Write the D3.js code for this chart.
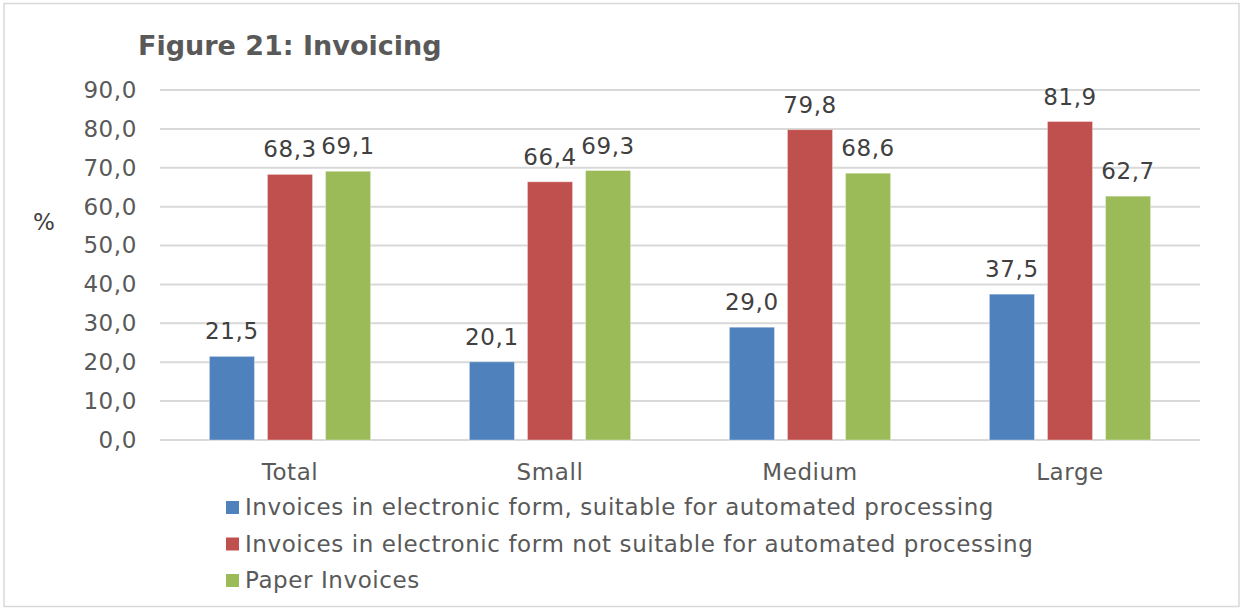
<!DOCTYPE html>
<html><head><meta charset="utf-8">
<script src="https://cdn.jsdelivr.net/npm/d3@7"></script>
<style>body{margin:0;background:#fff}svg{display:block}text{font-family:"DejaVu Sans",Verdana,sans-serif}</style>
</head><body>
<script>
const categories = ["Total", "Small", "Medium", "Large"];
const seriesNames = [
  "Invoices in electronic form, suitable for automated processing",
  "Invoices in electronic form not suitable for automated processing",
  "Paper Invoices"
];
const electronicSuitable = [21.5, 20.1, 29.0, 37.5];
const electronicNotSuitable = [68.3, 66.4, 79.8, 81.9];
const paperInvoices = [69.1, 69.3, 68.6, 62.7];
const seriesColors = ["#4F81BD", "#C0504D", "#9BBB59"];
const yTicks = [0, 10, 20, 30, 40, 50, 60, 70, 80, 90];
const title = "Figure 21: Invoicing";

const seriesValues = [electronicSuitable, electronicNotSuitable, paperInvoices];
const W = 1243, H = 610;
const svg = d3.select("body").append("svg").attr("width", W).attr("height", H);
svg.append("rect").attr("x", 4).attr("y", 3.5).attr("width", W - 8).attr("height", H - 7)
  .attr("fill", "#fff").attr("stroke", "#d9d9d9").attr("stroke-width", 1.5);

const fmt = v => d3.format(".1f")(v).replace(".", ",");
const y = d3.scaleLinear().domain([0, 90]).range([440, 90]);
const x0 = d3.scaleBand().domain(categories).range([160, 1200]).paddingInner(0.38).paddingOuter(0.19);
const x1 = d3.scaleBand().domain(d3.range(3)).range([0, x0.bandwidth()]).paddingInner(0.224);

// gridlines
svg.append("g").selectAll("line").data(yTicks).join("line")
  .attr("x1", 160).attr("x2", 1200).attr("y1", d => y(d)).attr("y2", d => y(d))
  .attr("stroke", "#d9d9d9").attr("stroke-width", 2);

// y axis
const yAxis = svg.append("g").attr("transform", "translate(160,0)")
  .call(d3.axisLeft(y).tickValues(yTicks).tickFormat(fmt).tickSize(0).tickPadding(23));
yAxis.select(".domain").remove();
yAxis.selectAll("text").attr("fill", "#595959").style("font-size", "23px")
  .style("letter-spacing", "0.6px").attr("font-family", null);

// x axis
const xAxis = svg.append("g").attr("transform", "translate(0,440)")
  .call(d3.axisBottom(x0).tickSize(0).tickPadding(24));
xAxis.select(".domain").remove();
xAxis.selectAll("text").attr("fill", "#595959").style("font-size", "23px")
  .style("letter-spacing", "0.6px").attr("font-family", null);

// bars
const groups = svg.append("g").selectAll("g").data(categories).join("g")
  .attr("transform", d => `translate(${x0(d)},0)`);
groups.each(function(cat, ci) {
  const g = d3.select(this);
  const data = seriesValues.map((s, si) => ({si, v: s[ci]}));
  g.selectAll("rect").data(data).join("rect")
    .attr("x", d => x1(d.si)).attr("width", x1.bandwidth())
    .attr("y", d => y(d.v)).attr("height", d => y(0) - y(d.v))
    .attr("fill", d => seriesColors[d.si])
    .attr("stroke", "rgba(255,255,255,0.35)").attr("stroke-width", 1);
  g.selectAll("text").data(data).join("text")
    .attr("x", d => x1(d.si) + x1.bandwidth() / 2).attr("y", d => y(d.v) - 17)
    .attr("text-anchor", "middle").attr("fill", "#404040").style("font-size", "23px")
    .style("letter-spacing", "0.6px")
    .text(d => fmt(d.v));
});

// title
svg.append("text").attr("x", 138).attr("y", 55).attr("fill", "#595959")
  .style("font-size", "27px").style("font-weight", "bold").text(title);

// y label
svg.append("text").attr("x", 44).attr("y", 230).attr("text-anchor", "middle")
  .attr("fill", "#404040").style("font-size", "23px").text("%");

// legend
const leg = svg.append("g").selectAll("g").data(seriesNames).join("g")
  .attr("transform", (d, i) => `translate(226,${515 + i * 36.5})`);
leg.append("rect").attr("x", 0).attr("y", -14).attr("width", 13).attr("height", 13)
  .attr("fill", (d, i) => seriesColors[i]);
leg.append("text").attr("x", 19).attr("y", 0).attr("fill", "#595959")
  .style("font-size", "23px").style("letter-spacing", "0.58px").text(d => d);
</script>
</body></html>
